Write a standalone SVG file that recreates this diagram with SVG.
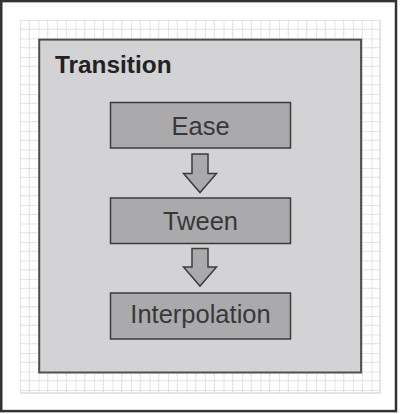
<svg xmlns="http://www.w3.org/2000/svg" width="400" height="414" viewBox="0 0 400 414">
  <style>
    .node rect { fill: #aaaaac; stroke: #3c3c3c; stroke-width: 1.5; }
    .node text { font-family: "Liberation Sans", Arial, sans-serif; font-size: 25.5px; fill: #383838; text-anchor: middle; }
    .arrow { fill: #aaaaac; stroke: #3c3c3c; stroke-width: 1.5; stroke-linejoin: miter; }
    .title { font-family: "Liberation Sans", Arial, sans-serif; font-size: 24.4px; font-weight: bold; fill: #222222; }
  </style>
  <defs>
    <pattern id="grid" x="20" y="20" width="18.5" height="18.5" patternUnits="userSpaceOnUse">
      <path d="M0 0 H18.5 M0 0 V18.5" stroke="#cbcbcb" stroke-width="1" fill="none"/>
      <path d="M0 9.25 H18.5 M9.25 0 V18.5" stroke="#d0d0d0" stroke-width="1" stroke-dasharray="2 1" fill="none"/>
    </pattern>
  </defs>
  <rect x="0" y="0" width="400" height="414" fill="#ffffff"/>
  <rect x="1.25" y="1.1" width="394.75" height="410" fill="#ffffff" stroke="#333333" stroke-width="2.5"/>
  <rect x="20" y="20" width="360" height="373" fill="url(#grid)"/>
  <path d="M380 20 V393 M20 393 H380" stroke="#cbcbcb" stroke-width="1" fill="none"/>

  <g id="transition">
    <rect x="39.2" y="39.6" width="321.9" height="332.9" fill="#d3d3d5" stroke="#4e4e4e" stroke-width="2"/>
    <text class="title" x="55" y="72.5">Transition</text>
  </g>

  <g id="connectors">
    <polygon class="arrow" points="192,154 208,154 208,173.5 216.5,173.5 200,192.5 183.5,173.5 192,173.5"/>
    <polygon class="arrow" points="192,248.5 208,248.5 208,267 216.5,267 200,286 183.5,267 192,267"/>
  </g>

  <g id="ease" class="node">
    <rect x="110.5" y="102.5" width="180" height="45.5"/>
    <text x="200.5" y="135">Ease</text>
  </g>
  <g id="tween" class="node">
    <rect x="110.5" y="198" width="180" height="45.5"/>
    <text x="200.5" y="230">Tween</text>
  </g>
  <g id="interpolation" class="node">
    <rect x="110.5" y="293" width="180" height="46"/>
    <text x="200.5" y="323">Interpolation</text>
  </g>
</svg>
